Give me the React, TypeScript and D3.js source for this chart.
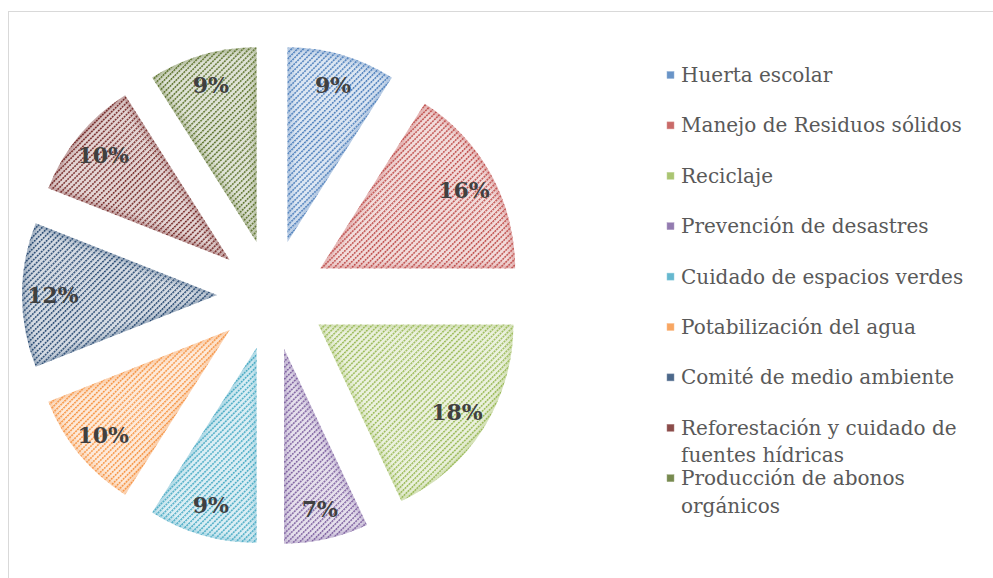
import React, { useMemo } from 'react';
import * as d3 from 'd3';

const categories = [
  "Huerta escolar",
  "Manejo de Residuos sólidos",
  "Reciclaje",
  "Prevención de desastres",
  "Cuidado de espacios verdes",
  "Potabilización del agua",
  "Comité de medio ambiente",
  "Reforestación y cuidado de fuentes hídricas",
  "Producción de abonos orgánicos",
];
const values = [9, 16, 18, 7, 9, 10, 12, 10, 9];
const colors = ["#4F81BD", "#C0504D", "#9BBB59", "#8064A2", "#4BACC6", "#F79646", "#2C4D75", "#772C2A", "#5F7530"];

const W = 993, H = 578;
const CX = 272, CY = 295, R = 195, EXPLODE = 55, LABEL_R = 219;
const FONT = "'DejaVu Serif', serif";
const LEG_SIZE = 20;
const LEG_X = 667, LEG_Y0 = 75, LEG_STEP = 50.4, LEG_LINE = 27.5, LEG_WRAP = 292;

function wrap(text: string, font: string, maxW: number): string[] {
  const c = document.createElement('canvas').getContext('2d')!;
  c.font = font;
  const words = text.split(' ');
  const lines: string[] = [];
  let cur = '';
  for (const w of words) {
    const t = cur ? cur + ' ' + w : w;
    if (c.measureText(t).width > maxW && cur) { lines.push(cur); cur = w; } else cur = t;
  }
  if (cur) lines.push(cur);
  return lines;
}

export default function App() {
  const total = d3.sum(values);
  const arcs = useMemo(() => d3.pie<number>().sort(null).value(d => d)(values), []);
  const arcGen = d3.arc<d3.PieArcDatum<number>>().innerRadius(0).outerRadius(R);
  const fmt = d3.format('.0%');
  const legendLines = categories.map(c => wrap(c, `${LEG_SIZE}px ${FONT}`, LEG_WRAP));
  const tint = (c: string, k: number) => d3.interpolateRgb(c, '#ffffff')(k);

  return (
    <svg width={W} height={H} style={{ position: 'absolute', left: 0, top: 0, background: '#fff' }}>
      <defs>
        {colors.map((c, i) => (
          <pattern key={i} id={`hatch${i}`} patternUnits="userSpaceOnUse" width={4.2} height={2.8} patternTransform="rotate(45)">
            <rect width={4.2} height={2.8} fill={tint(c, 0.8)} />
            <rect x={0} y={0} width={1.5} height={2.0} fill={c} />
          </pattern>
        ))}
        {arcs.map((a, i) => (
          <clipPath key={i} id={`clip${i}`}>
            <path d={arcGen(a)!} />
          </clipPath>
        ))}
      </defs>
      <rect x={8.5} y={11.5} width={1000} height={600} fill="#fff" stroke="#d9d9d9" strokeWidth={1} />
      <g transform={`translate(${CX},${CY})`}>
        {arcs.map((a, i) => {
          const mid = (a.startAngle + a.endAngle) / 2;
          const dx = Math.sin(mid) * EXPLODE, dy = -Math.cos(mid) * EXPLODE;
          const d = arcGen(a)!;
          return (
            <g key={i} transform={`translate(${dx},${dy})`}>
              <path d={d} fill={`url(#hatch${i})`} />
              <g clipPath={`url(#clip${i})`}>
                <path d={d} fill="none" stroke={colors[i]} strokeOpacity={0.1} strokeWidth={14} />
                <path d={d} fill="none" stroke={colors[i]} strokeOpacity={0.18} strokeWidth={6} />
              </g>
            </g>
          );
        })}
        {arcs.map((a, i) => {
          const mid = (a.startAngle + a.endAngle) / 2;
          return (
            <text key={i} x={Math.sin(mid) * LABEL_R} y={-Math.cos(mid) * LABEL_R} textAnchor="middle" dominantBaseline="central"
              fontFamily={FONT} fontWeight="bold" fontSize={22} fill="#404040">
              {fmt(a.data / total)}
            </text>
          );
        })}
      </g>
      <g>
        {categories.map((c, i) => {
          const y = LEG_Y0 + i * LEG_STEP;
          return (
            <g key={i}>
              <rect x={LEG_X} y={y - 3.5} width={7} height={7} fill={tint(colors[i], 0.15)} stroke={tint(colors[i], 0.4)} strokeWidth={0.5} />
              <text x={LEG_X + 14} y={y} fontFamily={FONT} fontSize={LEG_SIZE} fill="#595959" dominantBaseline="central">
                {legendLines[i].map((l, j) => (
                  <tspan key={j} x={LEG_X + 14} dy={j === 0 ? 0 : LEG_LINE}>{l}</tspan>
                ))}
              </text>
            </g>
          );
        })}
      </g>
    </svg>
  );
}
